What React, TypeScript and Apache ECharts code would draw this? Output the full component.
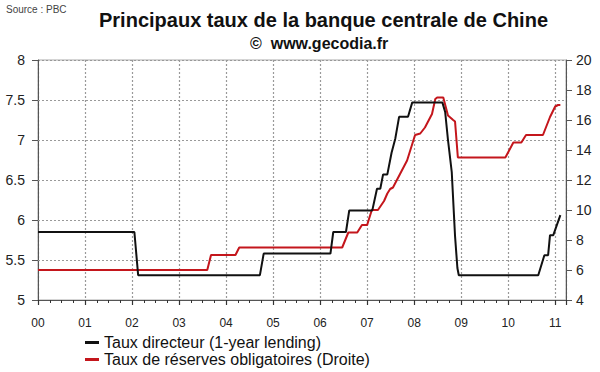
import React, { useEffect, useRef } from "react";
import * as echarts from "echarts";

const FONT = "'Liberation Sans', Arial, Helvetica, sans-serif";

// Decimal years (2000.00 = January 2000)
const directeurYears = [
  2000.0, 2002.05, 2002.13, 2004.72, 2004.8, 2006.22, 2006.28, 2006.55, 2006.62,
  2007.11, 2007.21, 2007.28, 2007.34, 2007.43, 2007.52, 2007.6, 2007.68, 2007.87,
  2007.96, 2008.6, 2008.66, 2008.72, 2008.8, 2008.87, 2008.92, 2008.95, 2010.64,
  2010.77, 2010.85, 2010.89, 2010.96, 2011.11,
];
const directeurRates = [
  5.85, 5.85, 5.31, 5.31, 5.58, 5.58, 5.85, 5.85, 6.12,
  6.12, 6.39, 6.39, 6.57, 6.57, 6.84, 7.02, 7.29, 7.29,
  7.47, 7.47, 7.35, 7.0, 6.6, 5.8, 5.4, 5.31, 5.31,
  5.56, 5.56, 5.81, 5.81, 6.06,
];

const reservesYears = [
  2000.0, 2003.6, 2003.68, 2004.2, 2004.28, 2006.47, 2006.6, 2006.79, 2006.89,
  2007.0, 2007.1, 2007.23, 2007.36, 2007.43, 2007.49, 2007.55, 2007.7, 2007.85,
  2007.96, 2008.02, 2008.13, 2008.23, 2008.38, 2008.45, 2008.49, 2008.62, 2008.72,
  2008.83, 2008.87, 2008.93, 2009.94, 2010.11, 2010.28, 2010.38, 2010.74, 2010.89,
  2011.0, 2011.06, 2011.11,
];
const reservesRates = [
  6, 6, 7, 7, 7.5, 7.5, 8.5, 8.5, 9,
  9, 10, 10, 10.6, 11.1, 11.4, 11.5, 12.4, 13.3,
  14.4, 15.0, 15.1, 15.5, 16.4, 17.4, 17.5, 17.5, 16.3,
  16.0, 15.9, 13.5, 13.5, 14.5, 14.5, 15.0, 15.0, 16.2,
  16.9, 17.0, 17.0,
];

// Inner horizontal grid levels on the left axis
const leftGridLevels = [5.5, 6, 6.5, 7, 7.5];

const seriesNames = [
  "Taux directeur (1-year lending)",
  "Taux de réserves obligatoires (Droite)",
];
const titleText = "Principaux taux de la banque centrale de Chine";
const subtitleText = "©  www.gecodia.fr";
const sourceText = "Source : PBC";

const zip = (xs: number[], ys: number[]) => xs.map((x, i) => [x, ys[i]]);

export default function App() {
  const ref = useRef<HTMLDivElement>(null);
  useEffect(() => {
    if (!ref.current) return;
    const chart = echarts.init(ref.current, undefined, { renderer: "svg" });
    const axisLine = { show: true, onZero: false, lineStyle: { color: "#555", width: 1 } };
    const gridStyle = { color: "#999999", type: [2, 2] as any, width: 1.2, opacity: 1 };
    const gridLine = { show: true, lineStyle: gridStyle };
    chart.setOption({
      animation: false,
      backgroundColor: "#fff",
      textStyle: { fontFamily: FONT },
      title: [
        {
          text: sourceText,
          left: 6,
          top: 4,
          padding: 0,
          textStyle: { fontSize: 10, fontWeight: "normal", color: "#444", fontFamily: FONT },
        },
        {
          text: titleText,
          left: 99,
          top: 10,
          padding: 0,
          textStyle: { fontSize: 20, fontWeight: "bold", color: "#111", fontFamily: FONT },
        },
        {
          text: subtitleText,
          left: 250,
          top: 35,
          padding: 0,
          textStyle: { fontSize: 16, fontWeight: "bold", color: "#111", fontFamily: FONT },
        },
      ],
      legend: {
        orient: "vertical",
        left: 85,
        top: 334,
        padding: 0,
        itemGap: 0,
        itemWidth: 14,
        itemHeight: 3,
        icon: "rect",
        textStyle: { fontSize: 16, lineHeight: 17, color: "#111", fontFamily: FONT },
        data: seriesNames,
      },
      grid: {
        left: 38,
        right: 34,
        top: 60,
        bottom: 72,
        show: true,
        borderColor: "#aaa",
        borderWidth: 1,
      },
      xAxis: {
        type: "value",
        min: 2000,
        max: 2011.23,
        interval: 1,
        axisLine,
        axisTick: { show: true, inside: false, length: 5, lineStyle: { color: "#333", width: 1.2 } },
        minorTick: { show: true, splitNumber: 4, length: 3, lineStyle: { color: "#333", width: 1 } },
        splitLine: gridLine,
        axisLabel: {
          margin: 17,
          fontSize: 12,
          color: "#222",
          fontFamily: FONT,
          showMaxLabel: false,
          formatter: (v: number) =>
            Math.abs(v - Math.round(v)) < 1e-6 ? String(Math.round(v)).slice(2) : "",
        },
      },
      yAxis: [
        {
          type: "value",
          min: 5,
          max: 8,
          interval: 0.5,
          position: "left",
          axisLine,
          axisTick: { show: true, length: 6, lineStyle: { color: "#555" } },
          splitLine: gridLine,
          axisLabel: { margin: 13, fontSize: 14, color: "#222", fontFamily: FONT },
        },
        {
          type: "value",
          min: 4,
          max: 20,
          interval: 2,
          position: "right",
          axisLine,
          axisTick: { show: true, length: 6, lineStyle: { color: "#555" } },
          splitLine: { show: false },
          axisLabel: { margin: 10, fontSize: 14, color: "#222", fontFamily: FONT },
        },
      ],
      series: [
        {
          name: seriesNames[0],
          type: "line",
          yAxisIndex: 0,
          showSymbol: false,
          symbol: "none",
          color: "#111",
          lineStyle: { width: 2, color: "#111" },
          data: zip(directeurYears, directeurRates),
          z: 3,
          markLine: {
            silent: true,
            symbol: "none",
            z: 1,
            label: { show: false },
            lineStyle: gridStyle,
            emphasis: { disabled: true },
            data: leftGridLevels.map((v) => ({ yAxis: v })),
          },
        },
        {
          name: seriesNames[1],
          type: "line",
          yAxisIndex: 1,
          showSymbol: false,
          symbol: "none",
          color: "#c4161c",
          lineStyle: { width: 2, color: "#c4161c" },
          data: zip(reservesYears, reservesRates),
          z: 2,
        },
      ],
    });
    return () => chart.dispose();
  }, []);
  return <div ref={ref} style={{ width: 600, height: 372, position: "absolute", left: 0, top: 0 }} />;
}
